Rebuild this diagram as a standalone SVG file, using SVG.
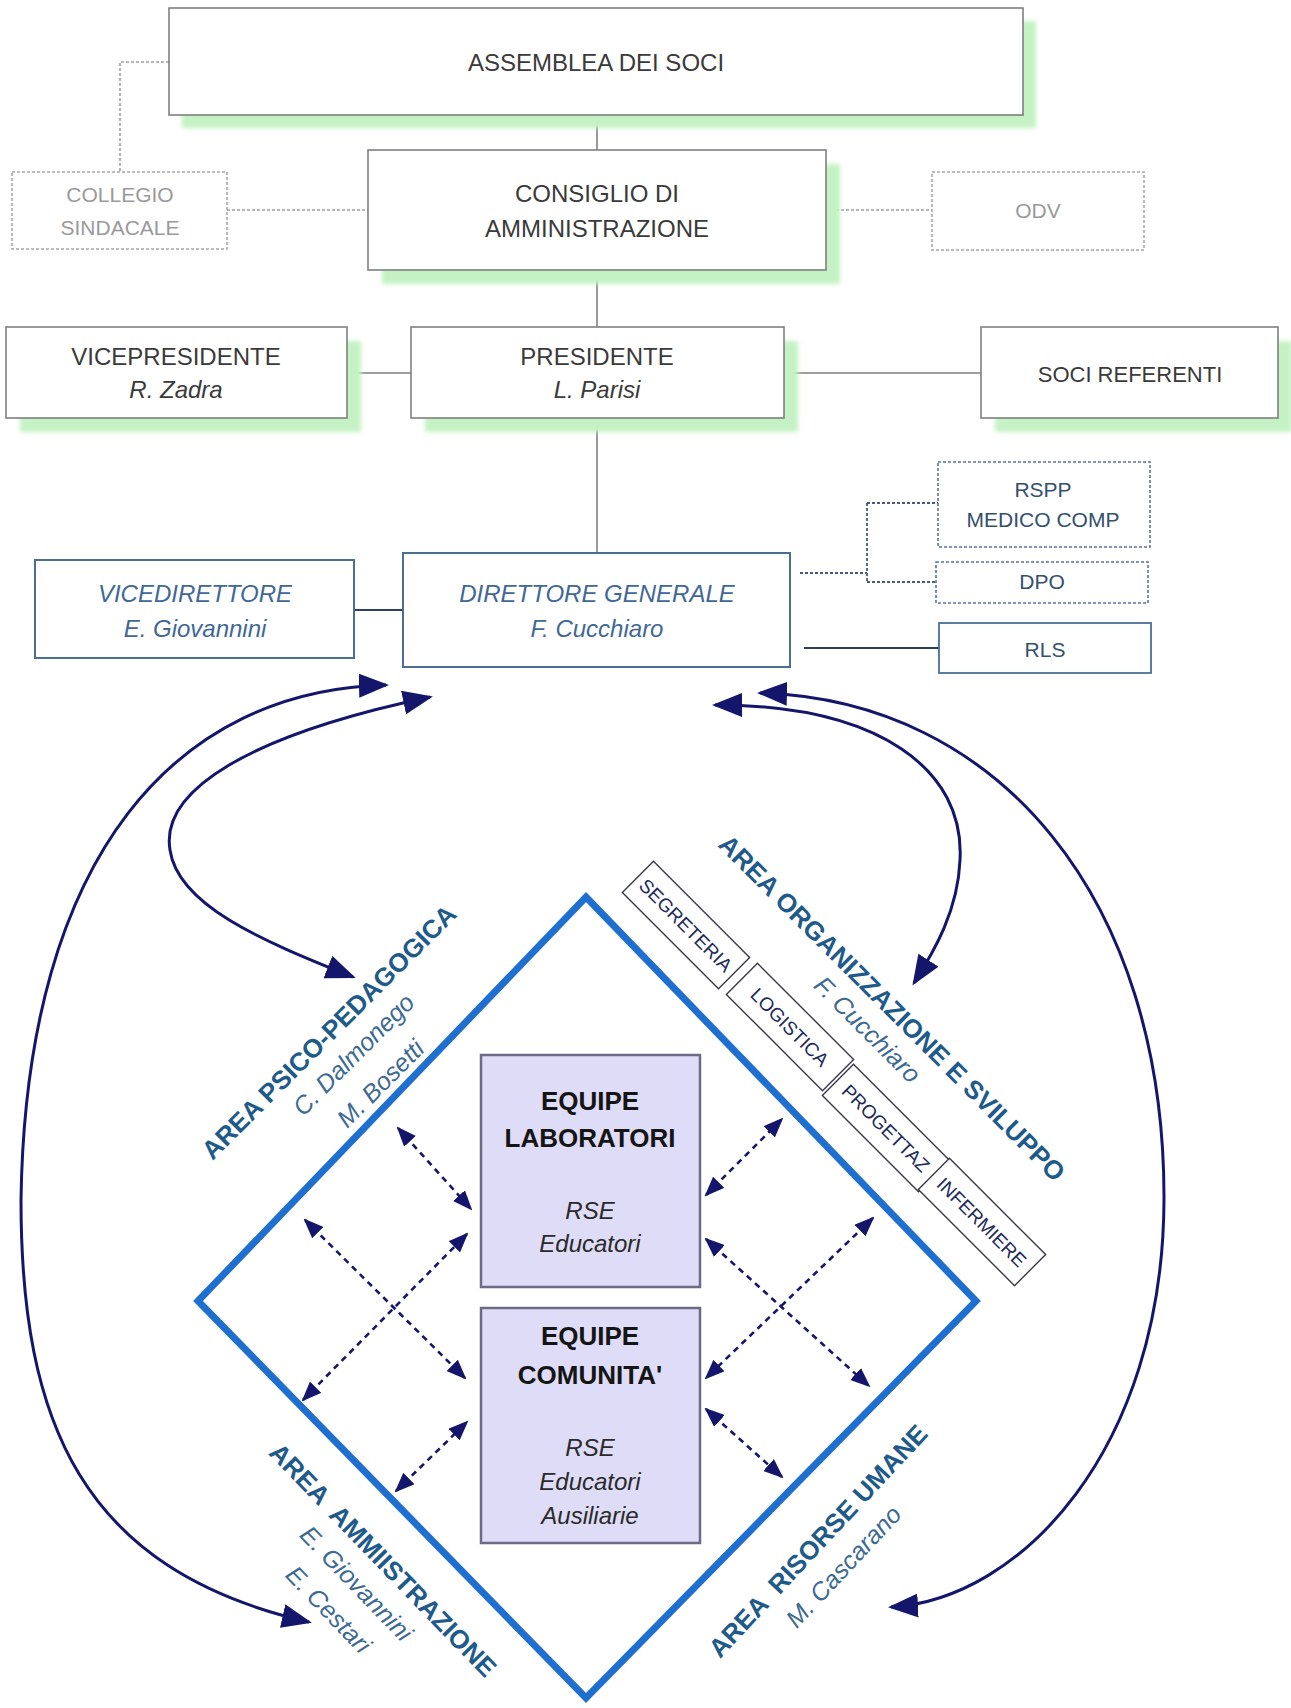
<svg xmlns="http://www.w3.org/2000/svg" width="1291" height="1708" viewBox="0 0 1291 1708">
<defs>
<style>
text{font-family:"Liberation Sans",Arial,sans-serif}
.t{font-size:24px;fill:#3a3a3a;text-anchor:middle}
.ti{font-size:24px;fill:#3a3a3a;text-anchor:middle;font-style:italic}
.box{fill:#fff;stroke:#7f7f7f;stroke-width:1.6}
.shadow{fill:#c4f2c4;filter:url(#blur)}
.dbox{fill:#fff;stroke:#a8a8a8;stroke-width:1.6;stroke-dasharray:3 2}
.dt{font-size:21px;fill:#9a9a9a;text-anchor:middle}
.bbox{fill:#fff;stroke:#4a6f94;stroke-width:2}
.bt{font-size:24px;fill:#3f6896;text-anchor:middle;font-style:italic}
.sbox{fill:#fff;stroke:#5a7593;stroke-width:1.6;stroke-dasharray:3 2}
.st{font-size:21px;fill:#34506e;text-anchor:middle}
.eq{fill:#dedcf6;stroke:#6b6b88;stroke-width:2.5}
.eqb{font-size:26px;font-weight:bold;fill:#151515;text-anchor:middle}
.eqi{font-size:24px;font-style:italic;fill:#2a2a2a;text-anchor:middle}
.area{font-size:26px;font-weight:bold;fill:#1e5a8a;text-anchor:middle}
.name{font-size:25px;font-style:italic;fill:#3d6a92;text-anchor:middle}
.sub{fill:#fff;stroke:#3a3a4a;stroke-width:1.4}
.subt{font-size:19px;fill:#1d2a5a;text-anchor:middle}
.cg{fill:none;stroke:#7f7f7f;stroke-width:1.6}
.cgd{fill:none;stroke:#a0a0a0;stroke-width:1.6;stroke-dasharray:3 2}
.cb{fill:none;stroke:#2c3f62;stroke-width:1.8}
.cbd{fill:none;stroke:#4a5a7a;stroke-width:1.8;stroke-dasharray:3 2}
.curve{fill:none;stroke:#14166b;stroke-width:3;marker-start:url(#ah);marker-end:url(#ah)}
.dot{fill:none;stroke:#14166b;stroke-width:2.6;stroke-dasharray:6 5;marker-start:url(#sh);marker-end:url(#sh)}
</style>
<filter id="blur" x="-5%" y="-20%" width="110%" height="140%"><feGaussianBlur stdDeviation="2"/></filter>
<marker id="ah" viewBox="0 0 30 24" refX="27" refY="12" markerWidth="30" markerHeight="24" markerUnits="userSpaceOnUse" orient="auto-start-reverse"><path d="M0,0 L30,12 L0,24 z" fill="#14166b"/></marker>
<marker id="sh" viewBox="0 0 20 16" refX="18" refY="8" markerWidth="20" markerHeight="16" markerUnits="userSpaceOnUse" orient="auto-start-reverse"><path d="M0,0 L20,8 L0,16 z" fill="#14166b"/></marker>
</defs>
<rect width="1291" height="1708" fill="#fff"/>

<g id="connectors">
<path class="cg" d="M597,115 V150 M597,270 V327 M597,418 V553 M347,373 H411 M784,373 H981"/>
<path class="cgd" d="M169,62 H120 V172 M227,210 H368 M826,210 H932"/>
<path class="cb" d="M354,610 H403 M804,648 H939"/>
<path class="cbd" d="M800,573 H867 M867,503 V582 M867,503 H938 M867,582 H936"/>
<path class="curve" d="M386,685 C180,690 26,850 21,1200 C21,1420 80,1570 309,1622"/>
<path class="curve" d="M430,697 C250,735 160,790 170,850 C178,905 260,940 353,977"/>
<path class="curve" d="M715,705 C880,705 965,770 960,860 C958,910 935,950 914,983"/>
<path class="curve" d="M760,693 C1000,700 1165,900 1164,1200 C1163,1450 1020,1600 891,1607"/>
<path class="dot" d="M398,1128 L471,1209"/>
<path class="dot" d="M305,1220 L465,1378"/>
<path class="dot" d="M303,1400 L467,1234"/>
<path class="dot" d="M396,1491 L467,1422"/>
<path class="dot" d="M706,1195 L782,1119"/>
<path class="dot" d="M706,1239 L869,1386"/>
<path class="dot" d="M873,1218 L706,1378"/>
<path class="dot" d="M706,1409 L782,1477"/>
</g>

<g id="assemblea">
<rect class="shadow" x="182" y="21" width="854" height="107"/>
<rect class="box" x="169" y="8" width="854" height="107"/>
<text class="t" x="596" y="71">ASSEMBLEA DEI SOCI</text>
</g>
<g id="consiglio">
<rect class="shadow" x="382" y="164" width="458" height="120"/>
<rect class="box" x="368" y="150" width="458" height="120"/>
<text class="t" x="597" y="202">CONSIGLIO DI</text>
<text class="t" x="597" y="237">AMMINISTRAZIONE</text>
</g>
<g id="collegio">
<rect class="dbox" x="12" y="172" width="215" height="77"/>
<text class="dt" x="120" y="202">COLLEGIO</text>
<text class="dt" x="120" y="235">SINDACALE</text>
</g>
<g id="odv">
<rect class="dbox" x="932" y="172" width="212" height="78"/>
<text class="dt" x="1038" y="218">ODV</text>
</g>
<g id="vicepresidente">
<rect class="shadow" x="20" y="341" width="341" height="91"/>
<rect class="box" x="6" y="327" width="341" height="91"/>
<text class="t" x="176" y="365">VICEPRESIDENTE</text>
<text class="ti" x="176" y="398">R. Zadra</text>
</g>
<g id="presidente">
<rect class="shadow" x="425" y="341" width="373" height="91"/>
<rect class="box" x="411" y="327" width="373" height="91"/>
<text class="t" x="597" y="365">PRESIDENTE</text>
<text class="ti" x="597" y="398">L. Parisi</text>
</g>
<g id="soci-referenti">
<rect class="shadow" x="995" y="341" width="297" height="91"/>
<rect class="box" x="981" y="327" width="297" height="91"/>
<text class="t" x="1130" y="382" style="font-size:22px">SOCI REFERENTI</text>
</g>
<g id="vicedirettore">
<rect class="bbox" x="35" y="560" width="319" height="98"/>
<text class="bt" x="195" y="602">VICEDIRETTORE</text>
<text class="bt" x="195" y="637">E. Giovannini</text>
</g>
<g id="direttore-generale">
<rect class="bbox" x="403" y="553" width="387" height="114"/>
<text class="bt" x="597" y="602">DIRETTORE GENERALE</text>
<text class="bt" x="597" y="637">F. Cucchiaro</text>
</g>
<g id="rspp">
<rect class="sbox" x="938" y="462" width="212" height="85"/>
<text class="st" x="1043" y="497">RSPP</text>
<text class="st" x="1043" y="527">MEDICO COMP</text>
</g>
<g id="dpo">
<rect class="sbox" x="936" y="562" width="212" height="41"/>
<text class="st" x="1042" y="589">DPO</text>
</g>
<g id="rls">
<rect class="bbox" x="939" y="623" width="212" height="50" style="stroke-width:1.8"/>
<text class="st" x="1045" y="657">RLS</text>
</g>

<g id="diamond">
<polygon points="586,897 976,1301 586,1698 198,1301" fill="none" stroke="#1f6fd1" stroke-width="7"/>
</g>

<g id="equipe-laboratori">
<rect class="eq" x="481" y="1055" width="219" height="232"/>
<text class="eqb" x="590" y="1110">EQUIPE</text>
<text class="eqb" x="590" y="1147">LABORATORI</text>
<text class="eqi" x="590" y="1219">RSE</text>
<text class="eqi" x="590" y="1252">Educatori</text>
</g>
<g id="equipe-comunita">
<rect class="eq" x="481" y="1308" width="219" height="235"/>
<text class="eqb" x="590" y="1345">EQUIPE</text>
<text class="eqb" x="590" y="1384">COMUNITA'</text>
<text class="eqi" x="590" y="1456">RSE</text>
<text class="eqi" x="590" y="1490">Educatori</text>
<text class="eqi" x="590" y="1524">Ausiliarie</text>
</g>

<g id="area-psico-pedagogica">
<text class="area" transform="translate(329,1032) rotate(-45)" y="9">AREA PSICO-PEDAGOGICA</text>
<text class="name" transform="translate(354,1055) rotate(-45)" y="8">C. Dalmonego</text>
<text class="name" transform="translate(381,1084) rotate(-45)" y="8">M. Bosetti</text>
</g>
<g id="area-organizzazione">
<text class="area" transform="translate(892,1008) rotate(45)" y="9">AREA ORGANIZZAZIONE E SVILUPPO</text>
<text class="name" transform="translate(867,1030) rotate(45)" y="8">F. Cucchiaro</text>
</g>
<g id="segreteria" transform="translate(686,925) rotate(45)">
<rect class="sub" x="-68" y="-22" width="136" height="44"/>
<text class="subt" y="7">SEGRETERIA</text>
</g>
<g id="logistica" transform="translate(790,1027) rotate(45)">
<rect class="sub" x="-68" y="-22" width="136" height="44"/>
<text class="subt" y="7">LOGISTICA</text>
</g>
<g id="progettaz" transform="translate(886,1128) rotate(45)">
<rect class="sub" x="-68" y="-22" width="136" height="44"/>
<text class="subt" y="7">PROGETTAZ</text>
</g>
<g id="infermiere" transform="translate(982,1222) rotate(45)">
<rect class="sub" x="-68" y="-22" width="136" height="44"/>
<text class="subt" y="7">INFERMIERE</text>
</g>
<g id="area-amministrazione">
<text class="area" transform="translate(383,1560) rotate(46)" y="9" xml:space="preserve">AREA  AMMIISTRAZIONE</text>
<text class="name" transform="translate(356,1584) rotate(46)" y="8">E. Giovannini</text>
<text class="name" transform="translate(328,1610) rotate(46)" y="8">E. Cestari</text>
</g>
<g id="area-risorse-umane">
<text class="area" transform="translate(818,1541) rotate(-47)" y="9" xml:space="preserve">AREA  RISORSE UMANE</text>
<text class="name" transform="translate(844,1567) rotate(-47)" y="8">M. Cascarano</text>
</g>
</svg>
